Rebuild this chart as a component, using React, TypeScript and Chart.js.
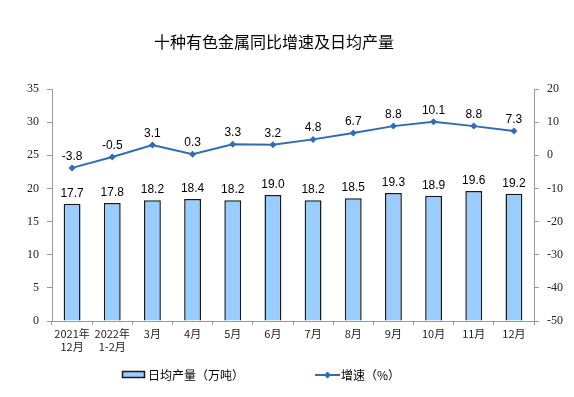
import React, { useEffect, useRef } from "react";
import { Chart, registerables } from "chart.js";
Chart.register(...registerables);

const categories: (string | string[])[] = [
  ["2021年", "12月"], ["2022年", "1-2月"], "3月", "4月", "5月", "6月", "7月", "8月", "9月", "10月", "11月", "12月",
];
const output = [17.7, 17.8, 18.2, 18.4, 18.2, 19.0, 18.2, 18.5, 19.3, 18.9, 19.6, 19.2];
const growth = [-3.8, -0.5, 3.1, 0.3, 3.3, 3.2, 4.8, 6.7, 8.8, 10.1, 8.8, 7.3];
const title = "十种有色金属同比增速及日均产量";
const barLabel = "日均产量（万吨）";
const lineLabel = "增速（%）";

const BAR_FILL = "#99CCFF";
const BAR_BORDER = "#1a1a1a";
const LINE = "#2E6DB4";
const CJK = "'Noto Sans CJK SC', sans-serif";

export default function App() {
  const ref = useRef<HTMLCanvasElement>(null);
  useEffect(() => {
    document.body.style.margin = "0";
    const overlay = {
      id: "overlay",
      afterDatasetsDraw(chart: any) {
        const ctx = chart.ctx;
        ctx.save();
        ctx.fillStyle = "#000";
        ctx.font = "12px 'Liberation Sans', Arial, sans-serif";
        ctx.textAlign = "center";
        ctx.textBaseline = "alphabetic";
        const m0 = chart.getDatasetMeta(0);
        m0.data.forEach((el: any, i: number) => {
          ctx.fillText(output[i].toFixed(1), el.x, el.y - 7);
        });
        const m1 = chart.getDatasetMeta(1);
        m1.data.forEach((el: any, i: number) => {
          ctx.fillText(growth[i].toFixed(1), el.x, el.y - 8);
        });
        // title
        ctx.font = "16px " + CJK;
        ctx.textBaseline = "middle";
        ctx.fillText(title, 274, 42);
        // legend
        ctx.textAlign = "left";
        ctx.font = "12px " + CJK;
        ctx.fillStyle = BAR_FILL;
        ctx.fillRect(122, 371, 23, 7);
        ctx.strokeStyle = BAR_BORDER;
        ctx.lineWidth = 1.5;
        ctx.strokeRect(122.5, 371.5, 22, 6);
        ctx.fillStyle = "#000";
        ctx.fillText(barLabel, 148, 375);
        ctx.strokeStyle = LINE;
        ctx.lineWidth = 2;
        ctx.beginPath();
        ctx.moveTo(315, 375);
        ctx.lineTo(340, 375);
        ctx.stroke();
        ctx.fillStyle = LINE;
        ctx.beginPath();
        ctx.moveTo(327.5, 371.5);
        ctx.lineTo(331, 375);
        ctx.lineTo(327.5, 378.5);
        ctx.lineTo(324, 375);
        ctx.closePath();
        ctx.fill();
        ctx.fillStyle = "#000";
        ctx.fillText(lineLabel, 341, 375);
        ctx.restore();
      },
    };
    const chart = new Chart(ref.current!, {
      type: "bar",
      data: {
        labels: categories,
        datasets: [
          {
            type: "bar",
            data: output,
            backgroundColor: BAR_FILL,
            borderColor: BAR_BORDER,
            borderWidth: 1.5,
            barPercentage: 0.42,
            categoryPercentage: 1,
            yAxisID: "y",
            order: 2,
          },
          {
            type: "line",
            data: growth,
            borderColor: LINE,
            backgroundColor: LINE,
            borderWidth: 2,
            pointStyle: "rectRot",
            pointRadius: 3.5,
            pointBorderWidth: 0,
            yAxisID: "y1",
            order: 1,
          } as any,
        ],
      },
      options: {
        animation: false,
        responsive: false,
        layout: { padding: { top: 89, bottom: 0, left: 0, right: 0 } },
        plugins: { legend: { display: false }, tooltip: { enabled: false }, title: { display: false } },
        scales: {
          x: {
            grid: { display: true, drawOnChartArea: false, color: "#999", tickLength: 4, offset: true },
            border: { color: "#999" },
            ticks: { color: "#222", font: { family: CJK, size: 11 }, padding: 2, maxRotation: 0, autoSkip: false },
            afterFit(s: any) { s.height = 76; },
          },
          y: {
            position: "left",
            min: 0,
            max: 35,
            ticks: { stepSize: 5, color: "#222", font: { family: "'Liberation Serif', serif", size: 12 }, padding: 8 },
            grid: { drawOnChartArea: false, color: "#999", tickLength: 5 },
            border: { color: "#999" },
            afterFit(s: any) { s.width = 52; },
          },
          y1: {
            position: "right",
            min: -50,
            max: 20,
            ticks: { stepSize: 10, color: "#222", font: { family: "'Liberation Serif', serif", size: 12 }, padding: 8 },
            grid: { drawOnChartArea: false, color: "#999", tickLength: 5 },
            border: { color: "#999" },
            afterFit(s: any) { s.width = 40; },
          },
        },
      },
      plugins: [overlay],
    } as any);
    return () => chart.destroy();
  }, []);
  return (
    <div style={{ position: "absolute", left: 0, top: 0, width: 574, height: 397, background: "#fff" }}>
      <canvas ref={ref} width={574} height={397} style={{ width: 574, height: 397 }} />
    </div>
  );
}
